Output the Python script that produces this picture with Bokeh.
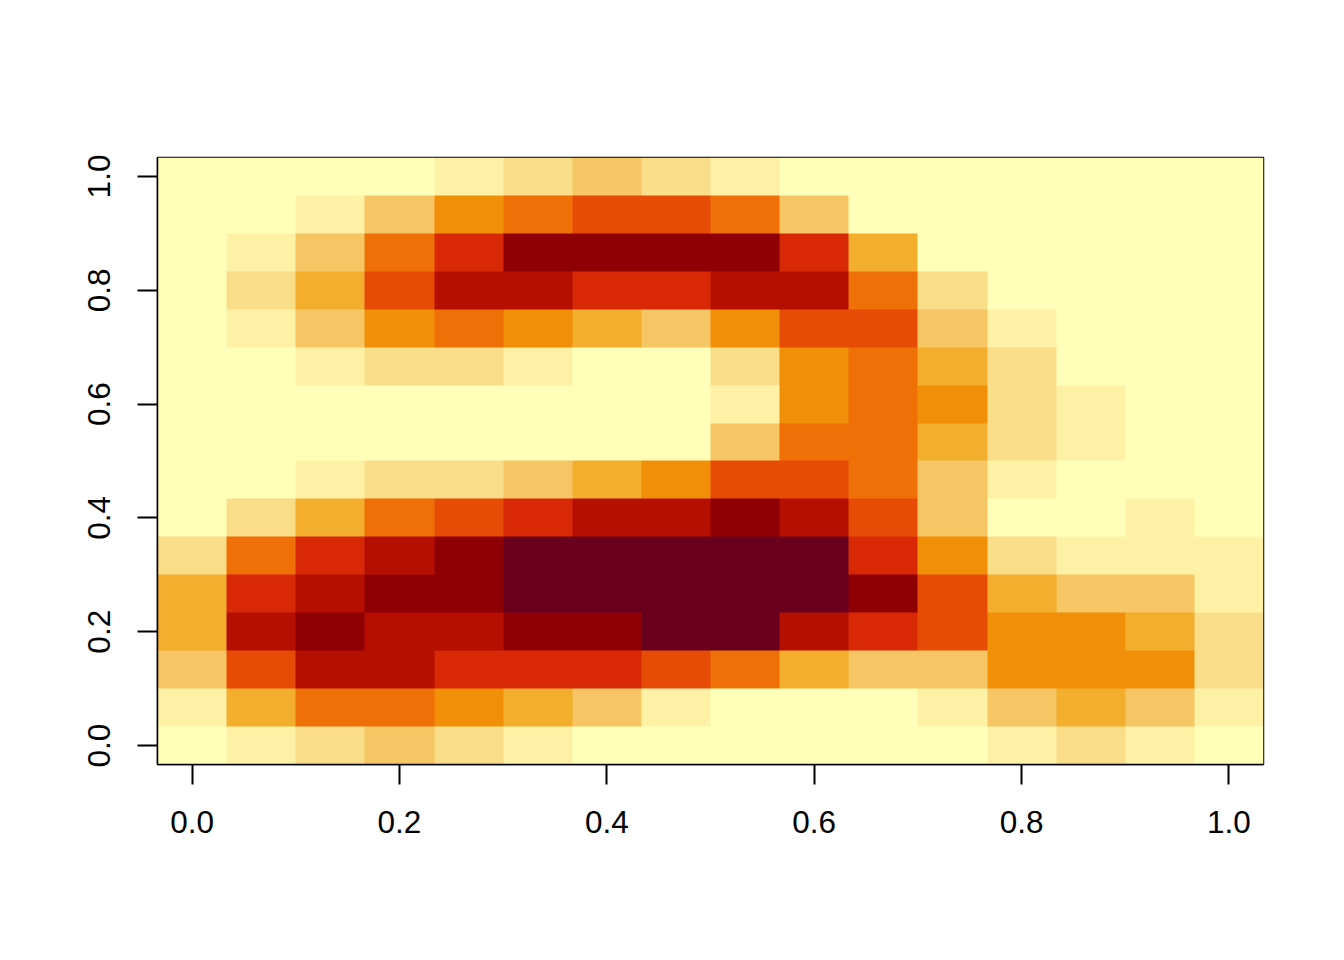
import numpy as np
from bokeh.plotting import figure
from bokeh.embed import file_html
from bokeh.resources import INLINE
from bokeh.models import Range1d, FixedTicker, LinearColorMapper

palette = ["#FFFFBA", "#FEF1A6", "#F9DD88", "#F5C663", "#F4AE2E", "#F18F09",
           "#EE7007", "#E74C07", "#D82805", "#B50F02", "#8F0005", "#69001E"]

# rows listed bottom (y = 0) to top (y = 1)
row_00 = [0, 1, 2, 3, 2, 1, 0, 0, 0, 0, 0, 0, 1, 2, 1, 0]
row_01 = [1, 4, 6, 6, 5, 4, 3, 1, 0, 0, 0, 1, 3, 4, 3, 1]
row_02 = [3, 7, 9, 9, 8, 8, 8, 7, 6, 4, 3, 3, 5, 5, 5, 2]
row_03 = [4, 9, 10, 9, 9, 10, 10, 11, 11, 9, 8, 7, 5, 5, 4, 2]
row_04 = [4, 8, 9, 10, 10, 11, 11, 11, 11, 11, 10, 7, 4, 3, 3, 1]
row_05 = [2, 6, 8, 9, 10, 11, 11, 11, 11, 11, 8, 5, 2, 1, 1, 1]
row_06 = [0, 2, 4, 6, 7, 8, 9, 9, 10, 9, 7, 3, 0, 0, 1, 0]
row_07 = [0, 0, 1, 2, 2, 3, 4, 5, 7, 7, 6, 3, 1, 0, 0, 0]
row_08 = [0, 0, 0, 0, 0, 0, 0, 0, 3, 6, 6, 4, 2, 1, 0, 0]
row_09 = [0, 0, 0, 0, 0, 0, 0, 0, 1, 5, 6, 5, 2, 1, 0, 0]
row_10 = [0, 0, 1, 2, 2, 1, 0, 0, 2, 5, 6, 4, 2, 0, 0, 0]
row_11 = [0, 1, 3, 5, 6, 5, 4, 3, 5, 7, 7, 3, 1, 0, 0, 0]
row_12 = [0, 2, 4, 7, 9, 9, 8, 8, 9, 9, 6, 2, 0, 0, 0, 0]
row_13 = [0, 1, 3, 6, 8, 10, 10, 10, 10, 8, 4, 0, 0, 0, 0, 0]
row_14 = [0, 0, 1, 3, 5, 6, 7, 7, 6, 3, 0, 0, 0, 0, 0, 0]
row_15 = [0, 0, 0, 0, 1, 2, 3, 2, 1, 0, 0, 0, 0, 0, 0, 0]
rows = [row_00, row_01, row_02, row_03, row_04, row_05, row_06, row_07,
        row_08, row_09, row_10, row_11, row_12, row_13, row_14, row_15]

tick_values = [0.0, 0.2, 0.4, 0.6, 0.8, 1.0]
tick_labels = {0: "0.0", 0.2: "0.2", 0.4: "0.4", 0.6: "0.6", 0.8: "0.8", 1: "1.0"}

n = 16
step = 1 / (n - 1)
lo, hi = -step / 2, 1 + step / 2

p = figure(width=1328, height=944, output_backend="svg", toolbar_location=None,
           x_range=Range1d(lo, hi), y_range=Range1d(lo, hi),
           min_border_left=157, min_border_right=65, min_border_top=157, min_border_bottom=180)
p.grid.visible = False
p.background_fill_color = "#FFFFFF"
p.outline_line_color = "#000000"
p.outline_line_width = 1.5

mapper = LinearColorMapper(palette=palette, low=0, high=len(palette) - 1)
p.image(image=[np.array(rows, dtype=float)], x=lo, y=lo, dw=hi - lo, dh=hi - lo, color_mapper=mapper)

for ax in (p.xaxis[0], p.yaxis[0]):
    ax.ticker = FixedTicker(ticks=tick_values)
    ax.major_label_overrides = tick_labels
    ax.major_label_text_font = "Liberation Sans"
    ax.major_label_text_font_size = "31.5px"
    ax.major_label_text_color = "#000000"
    ax.major_tick_out = 20
    ax.major_tick_in = 0
    ax.major_tick_line_width = 2
    ax.major_tick_line_color = "#000000"
    ax.minor_tick_line_color = None
    ax.axis_line_color = "#000000"
    ax.axis_line_width = 1.5

p.xaxis[0].major_label_standoff = 26
p.yaxis[0].major_label_standoff = 28
p.yaxis[0].major_label_orientation = "vertical"

open("out.html", "w").write(file_html(p, INLINE))
